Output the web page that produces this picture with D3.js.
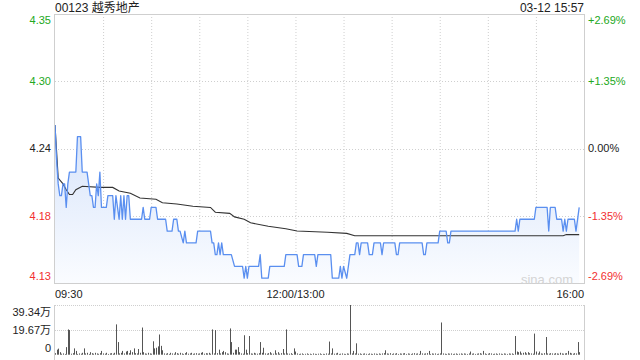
<!DOCTYPE html>
<head>
    <meta charset="utf-8">
    <title>00123 越秀地产</title>
    <script src="https://cdn.jsdelivr.net/npm/d3@7/dist/d3.min.js" charset="utf-8"></script>
    <style>
        body { margin: 0; background: #fff; }
        svg text { font-family: "Liberation Sans", Arial, "Noto Sans CJK SC", sans-serif; }
    </style>
</head>
<body>
<svg id="chart" width="640" height="360"></svg>
<script>
    // stock + session
    var stockName = "00123 越秀地产",
        stamp = "03-12 15:57",
        prevClose = 4.24,
        sessionMinutes = 330;

    var timeLabels = ["09:30", "12:00/13:00", "16:00"],
        timeLabelMin = [0, 150, 330];

    var pctTicks = [0.0269, 0.01345, 0, -0.01345, -0.0269],
        pctLabels = ["+2.69%", "+1.35%", "0.00%", "-1.35%", "-2.69%"];

    // price (minute offset from 09:30, price)
    var priceMin = [0, 1, 2, 3, 4, 5, 6, 7, 8, 9, 13, 14, 16, 17, 20, 21, 22, 23, 24, 25, 26, 27, 28, 29, 32, 33, 36,
        37, 38, 39, 40, 41, 42, 43, 44, 45, 46, 47, 54, 55, 56, 59, 60, 63, 64, 69, 70, 73, 74, 76, 77, 78, 80, 81, 82,
        88, 89, 97, 98, 99, 100, 101, 102, 103, 104, 105, 110, 112, 117, 118, 119, 120, 121, 127, 128, 129, 133, 134,
        143, 144, 151, 152, 154, 155, 162, 163, 164, 172, 173, 177, 178, 179, 180, 182, 184, 187, 188, 189, 190, 191,
        195, 196, 198, 199, 203, 204, 205, 212, 213, 214, 215, 229, 230, 231, 232, 239, 240, 244, 245, 246, 247, 287,
        288, 289, 290, 299, 300, 307, 308, 309, 312, 313, 316, 317, 318, 319, 320, 324, 325, 327];
    var priceVal = [4.26, 4.23, 4.21, 4.20, 4.20, 4.21, 4.21, 4.19, 4.21, 4.22, 4.22, 4.25, 4.25, 4.22, 4.22, 4.21,
        4.20, 4.20, 4.19, 4.19, 4.21, 4.20, 4.22, 4.19, 4.19, 4.20, 4.20,
        4.18, 4.20, 4.19, 4.18, 4.20, 4.18, 4.20, 4.18, 4.20, 4.20, 4.18, 4.18, 4.19, 4.18, 4.18, 4.19, 4.19, 4.18,
        4.18, 4.17, 4.17, 4.18, 4.18, 4.17, 4.17, 4.16, 4.17, 4.16,
        4.16, 4.17, 4.17, 4.16, 4.16, 4.15, 4.15, 4.16, 4.15, 4.16, 4.15, 4.15, 4.14, 4.14, 4.13, 4.14, 4.13, 4.14,
        4.14, 4.15, 4.13, 4.13, 4.14,
        4.14, 4.15, 4.15, 4.14, 4.14, 4.15, 4.15, 4.14, 4.15, 4.15, 4.13, 4.13, 4.14, 4.13, 4.14, 4.13, 4.15, 4.15,
        4.16, 4.16, 4.15, 4.16,
        4.16, 4.15, 4.15, 4.16, 4.16, 4.15, 4.16, 4.16, 4.15, 4.15, 4.16, 4.16, 4.15, 4.15, 4.16, 4.16, 4.17, 4.17,
        4.16, 4.16, 4.17, 4.17,
        4.18, 4.17, 4.18, 4.18, 4.19, 4.19, 4.17, 4.19, 4.19, 4.18, 4.18, 4.17, 4.18, 4.17, 4.18, 4.18, 4.17, 4.19];

    // average price
    var avgMin = [0, 2, 5, 7, 9, 11, 13, 17, 28, 36, 40, 47, 53, 63, 67, 76, 86, 97, 100, 109, 112, 118, 122, 133,
        144, 151, 170, 182, 187, 317, 319, 327];
    var avgVal = [4.26, 4.215, 4.21, 4.205, 4.201, 4.201, 4.205, 4.208, 4.207, 4.207, 4.204, 4.202, 4.198, 4.197,
        4.194, 4.193, 4.191, 4.19, 4.186, 4.185, 4.182, 4.18, 4.177, 4.174, 4.172, 4.170, 4.169, 4.168, 4.166,
        4.166, 4.167, 4.167];

    // volume per minute, 万 shares
    var volume = [
        1.2, 4, 4.8, 2, 0.8, 1, 0.6, 6, 20, 19.5,
        0.8, 1.2, 5, 3, 0.6, 1, 0.8, 1.5, 5, 1,
        1.5, 0.6, 2, 1.2, 0.8, 1.5, 1, 0.7, 1.2, 3,
        1, 0.8, 1.5, 0.6, 1, 1.2, 0.8, 1.5, 24, 10,
        1, 1.5, 3, 1, 2.5, 3, 1.2, 3.5, 2, 5,
        1.2, 1, 4.5, 1.5, 21.5, 2, 1, 0.8, 1.5, 1,
        0.8, 10.6, 5, 5.5, 6.6, 16, 7, 3.5, 1, 0.8,
        1.2, 0.6, 1.5, 1, 0.8, 2, 1.2, 0.8, 1.5, 1,
        0.6, 1.2, 2, 0.8, 1, 1.5, 0.7, 1, 1.2, 0.8,
        1, 1.5, 2, 0.8, 1.2, 1, 1.5, 0.8, 20, 1,
        19.5, 1.2, 4, 1, 2, 3, 2, 1, 0.8, 20.8,
        10, 1.5, 4, 4, 6, 2, 1, 0.8, 15.4, 4,
        1.2, 14.8, 1, 0.8, 1.5, 1, 0.8, 1.2, 10, 1.5,
        5.5, 1, 0.8, 1.2, 2, 1, 0.8, 3.5, 1, 2,
        0.8, 1.2, 4.5, 1, 20, 1, 0.8, 1.2, 0.6, 5,
        2.5, 1, 0.6, 0.8, 1, 0.5, 0.7, 1, 0.6, 0.8,
        0.5, 1, 0.7, 0.6, 0.8, 1, 0.5, 0.7, 0.6, 1,
        0.8, 10.4, 1, 5, 0.8, 1, 1.5, 0.6, 0.8, 1,
        0.7, 0.6, 1, 0.8, 39.34, 1, 3, 1, 9, 0.8,
        1, 0.6, 0.8, 1, 0.7, 0.6, 1, 0.8, 0.6, 1,
        0.8, 0.6, 1, 0.7, 1, 1.2, 3.5, 1, 0.8, 1.2,
        0.6, 1, 0.8, 1.2, 0.6, 1, 0.8, 1, 1.2, 0.6,
        1, 0.8, 0.6, 1, 1.2, 0.8, 1, 0.6, 3, 1,
        0.8, 1, 1.2, 3, 0.6, 1, 0.8, 1, 0.6, 0.8,
        1, 25.5, 1, 0.8, 0.6, 1, 0.8, 1, 0.6, 0.8,
        1, 0.6, 0.8, 1, 0.7, 1, 0.8, 0.6, 1, 2.5,
        0.8, 1, 0.6, 0.8, 1, 1.2, 0.8, 3, 1, 0.6,
        0.8, 1.2, 1, 0.6, 0.8, 1, 0.6, 1, 0.8, 0.6,
        1, 0.8, 0.6, 1, 0.8, 1, 0.6, 14.8, 2.5, 2,
        2.5, 1, 1.5, 2, 1, 2, 1.2, 1, 0.8, 16.7,
        2.5, 1, 2.5, 1, 0.8, 1.2, 14, 1, 0.8, 1.2,
        1, 0.8, 1.2, 1, 0.8, 1.5, 1, 0.8, 1, 1.2,
        3, 1.5, 1, 0.8, 1.2, 1, 10, 2];
    var volMax = 39.34,
        volLabels = ["39.34万", "19.67万", "0"];

    var up = "#22a822", down = "#f23030", grid = "#cfcfcf";

    var svg = d3.select("#chart");

    var x = d3.scaleLinear().domain([0, sessionMinutes]).range([55, 584]);
    var y = d3.scaleLinear()
        .domain([prevClose * (1 + pctTicks[4]), prevClose * (1 + pctTicks[0])])
        .range([283, 14]);
    var yv = d3.scaleLinear().domain([0, volMax]).range([354.7, 305]);

    function tickColor(p) {
        return p > 0 ? up : (p < 0 ? down : "#222");
    }

    // header
    svg.append("text").attr("x", 55).attr("y", 12).attr("font-size", 12).attr("fill", "#222").text(stockName);
    svg.append("text").attr("x", 584).attr("y", 12).attr("font-size", 12).attr("fill", "#222")
        .attr("text-anchor", "end").text(stamp);

    // main grid
    var main = svg.append("g");
    main.selectAll(".vgrid")
        .data(d3.range(30, sessionMinutes, 30))
        .enter().append("line")
        .attr("x1", function (d) { return x(d) + 0.5; })
        .attr("x2", function (d) { return x(d) + 0.5; })
        .attr("y1", y.range()[1]).attr("y2", y.range()[0])
        .attr("stroke", grid).attr("stroke-dasharray", "1,2");
    main.selectAll(".hgrid")
        .data(pctTicks.slice(1, 4))
        .enter().append("line")
        .attr("x1", x(0)).attr("x2", x(sessionMinutes))
        .attr("y1", function (d) { return Math.round(y(prevClose * (1 + d))) + 0.5; })
        .attr("y2", function (d) { return Math.round(y(prevClose * (1 + d))) + 0.5; })
        .attr("stroke", grid).attr("stroke-dasharray", "1,2");

    // fill under price
    var grad = svg.append("defs").append("linearGradient")
        .attr("id", "pricefill").attr("gradientUnits", "userSpaceOnUse")
        .attr("x1", 0).attr("x2", 0).attr("y1", y(4.26)).attr("y2", y.range()[0]);
    grad.append("stop").attr("offset", 0).attr("stop-color", "#d6e3fa");
    grad.append("stop").attr("offset", 1).attr("stop-color", "#fafcff");

    var pts = priceMin.map(function (m, i) { return [m, priceVal[i]]; });
    var avgPts = avgMin.map(function (m, i) { return [m, avgVal[i]]; });

    main.append("path")
        .datum(pts)
        .attr("fill", "url(#pricefill)")
        .attr("d", d3.area()
            .x(function (d) { return x(d[0]); })
            .y0(y.range()[0])
            .y1(function (d) { return y(d[1]); }));

    svg.append("text").attr("x", 573).attr("y", 284).attr("font-size", 13).attr("fill", "#d4d4d4")
        .attr("text-anchor", "end").text("sina.com");

    main.append("path")
        .datum(avgPts)
        .attr("fill", "none").attr("stroke", "#333").attr("stroke-width", 1.1)
        .attr("d", d3.line()
            .x(function (d) { return x(d[0]); })
            .y(function (d) { return y(d[1]); }));

    main.append("path")
        .datum(pts)
        .attr("fill", "none").attr("stroke", "#5a8ff0").attr("stroke-width", 1.3)
        .attr("stroke-linejoin", "round")
        .attr("d", d3.line()
            .x(function (d) { return x(d[0]); })
            .y(function (d) { return y(d[1]); }));

    main.append("rect")
        .attr("x", x(0) - 0.5).attr("y", y.range()[1] + 0.5)
        .attr("width", x(sessionMinutes) - x(0) + 1).attr("height", y.range()[0] - y.range()[1])
        .attr("fill", "none").attr("stroke", grid);

    // price / pct labels
    var nT = pctTicks.length;
    function labelShift(i) { return i === 0 ? 6 : (i === nT - 1 ? -7 : 0); }
    svg.selectAll(".plabel")
        .data(pctTicks)
        .enter().append("text")
        .attr("x", 51)
        .attr("y", function (d, i) { return y(prevClose * (1 + d)) + labelShift(i); })
        .attr("dy", "0.35em")
        .attr("text-anchor", "end").attr("font-size", 11)
        .attr("fill", function (d) { return tickColor(d); })
        .text(function (d) { return (prevClose * (1 + d)).toFixed(2); });
    svg.selectAll(".pctlabel")
        .data(pctTicks)
        .enter().append("text")
        .attr("x", 588)
        .attr("y", function (d, i) { return y(prevClose * (1 + d)) + labelShift(i); })
        .attr("dy", "0.35em")
        .attr("font-size", 11)
        .attr("fill", function (d) { return tickColor(d); })
        .text(function (d, i) { return pctLabels[i]; });

    // time labels
    svg.selectAll(".tlabel")
        .data(timeLabels)
        .enter().append("text")
        .attr("x", function (d, i) { return x(timeLabelMin[i]); })
        .attr("y", 298)
        .attr("font-size", 11).attr("fill", "#222")
        .attr("text-anchor", function (d, i) { return i === 0 ? "start" : (i === timeLabels.length - 1 ? "end" : "middle"); })
        .text(function (d) { return d; });

    // volume panel
    var vol = svg.append("g");
    [volMax, volMax / 2].forEach(function (v) {
        vol.append("line")
            .attr("x1", x(0)).attr("x2", x(sessionMinutes))
            .attr("y1", Math.round(yv(v)) + 0.5).attr("y2", Math.round(yv(v)) + 0.5)
            .attr("stroke", grid).attr("stroke-dasharray", "1,1");
    });
    [0, sessionMinutes].forEach(function (m) {
        vol.append("line")
            .attr("x1", x(m) - 0.5 + (m ? 1 : 0)).attr("x2", x(m) - 0.5 + (m ? 1 : 0))
            .attr("y1", yv(volMax)).attr("y2", 360)
            .attr("stroke", grid);
    });
    vol.selectAll(".bar")
        .data(volume)
        .enter().append("line")
        .attr("x1", function (d, i) { return Math.round(x(i)) + 0.5; })
        .attr("x2", function (d, i) { return Math.round(x(i)) + 0.5; })
        .attr("y1", yv(0))
        .attr("y2", function (d) { return yv(d); })
        .attr("stroke", "#555");

    var vShift = [7, 0, -7];
    svg.selectAll(".vlabel")
        .data(volLabels)
        .enter().append("text")
        .attr("x", 51)
        .attr("y", function (d, i) { return yv(volMax * (1 - i / 2)) + vShift[i]; })
        .attr("dy", "0.35em")
        .attr("text-anchor", "end").attr("font-size", 11).attr("fill", "#222")
        .text(function (d) { return d; });
</script>
</body>
